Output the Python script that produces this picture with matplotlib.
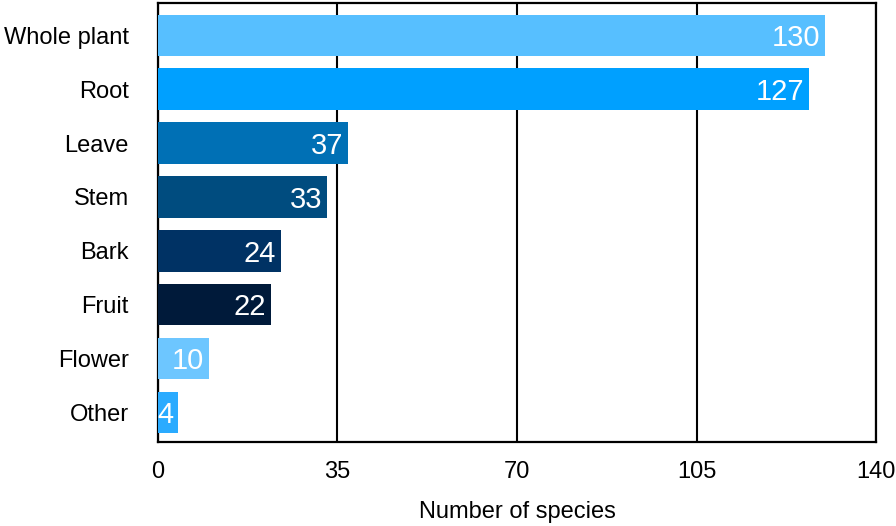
import matplotlib
matplotlib.use('Agg')
import matplotlib.pyplot as plt

categories = ['Whole plant', 'Root', 'Leave', 'Stem', 'Bark', 'Fruit', 'Flower', 'Other']
counts = [130, 127, 37, 33, 24, 22, 10, 4]
colors = ['#57BFFF', '#00A0FF', '#0070B5', '#004C7F', '#003264', '#001A3A', '#6DC6FF', '#2AABFF']
xticks = [0, 35, 70, 105, 140]

plt.rcParams['font.family'] = ['Liberation Sans', 'DejaVu Sans']

fig = plt.figure(figsize=(8.96, 5.26), dpi=100)
ax = fig.add_axes([0.1763, 0.1597, 0.8014, 0.8346])

ypos = list(range(len(categories)))
bars = ax.barh(ypos, counts, height=0.77, color=colors, zorder=3)

# value labels, white, inside the bar end
for b, v in zip(bars, counts):
    ax.annotate(str(v), xy=(b.get_width(), b.get_y() + b.get_height() / 2),
                xytext=(-3.5, -2), textcoords='offset points',
                ha='right', va='center', color='white', fontsize=21, zorder=4)

ax.set_xlim(0, 140)
ax.set_ylim(7.55, -0.6)
ax.set_xticks(xticks)
ax.set_yticks(ypos)
ax.set_yticklabels(categories)
ax.tick_params(axis='both', length=0, labelsize=17)
ax.tick_params(axis='x', pad=14)
ax.tick_params(axis='y', pad=21)
ax.xaxis.grid(True, color='black', linewidth=1.5, zorder=1)
ax.set_axisbelow(True)
for s in ax.spines.values():
    s.set_linewidth(1.6)
    s.set_color('black')
ax.set_xlabel('Number of species', fontsize=17, labelpad=13)

fig.savefig('out.png', dpi=100)
